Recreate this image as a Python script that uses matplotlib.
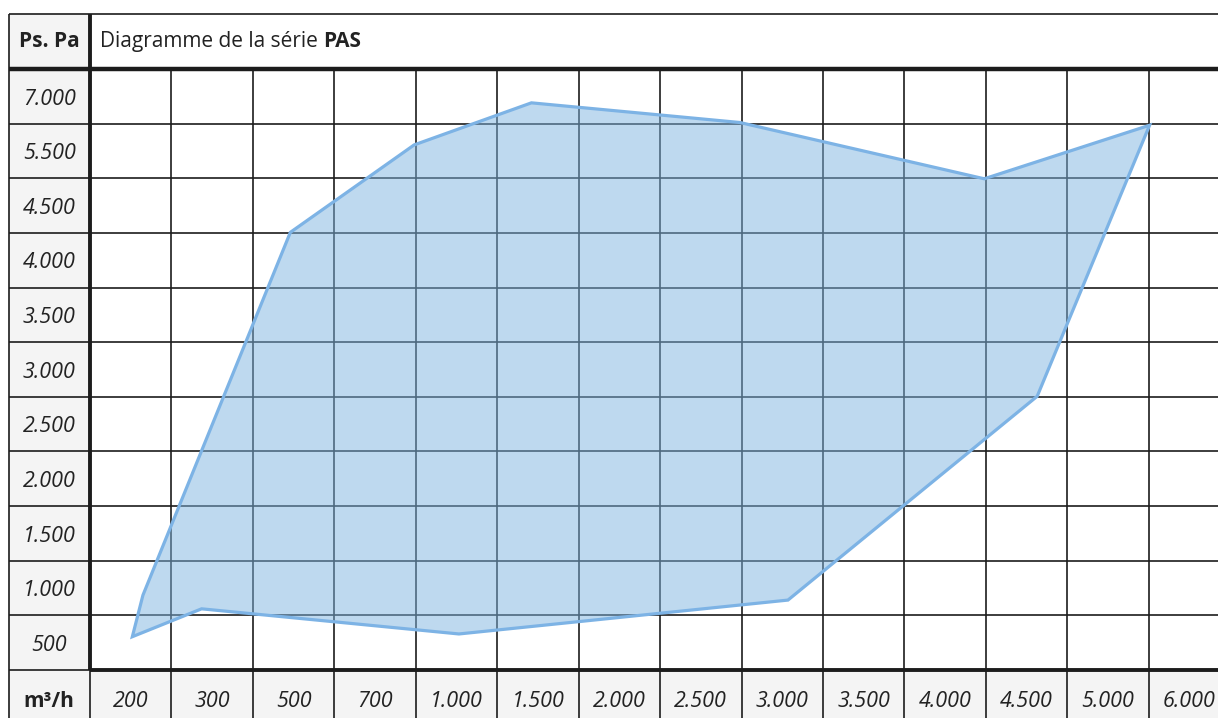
### Library Imports
import matplotlib.pyplot as plt
from matplotlib.patches import Rectangle, Polygon

### Data
x_labels = ['200', '300', '500', '700', '1.000', '1.500', '2.000', '2.500',
            '3.000', '3.500', '4.000', '4.500', '5.000', '6.000']
y_labels = ['500', '1.000', '1.500', '2.000', '2.500', '3.000', '3.500',
            '4.000', '4.500', '5.500', '7.000']

# Operating area outline, in category positions (0 = first label)
outline_x = [0.02, 0.15, 1.96, 3.48, 4.92, 7.48, 10.48, 12.51, 11.13, 8.07, 4.03, 0.87]
outline_y = [0.11, 0.87, 7.51, 9.11, 9.88, 9.52, 8.49, 9.47, 4.51, 0.78, 0.16, 0.62]

title_txt = 'Diagramme de la série '
title_bold = 'PAS'
y_head = 'Ps. Pa'
x_head = 'm³/h'

### Plot
plt.rcParams['font.family'] = ['Open Sans', 'DejaVu Sans']
fig = plt.figure(figsize=(12.18, 7.18), dpi=100)
ax = fig.add_axes([0, 0, 1, 1])
ax.set_xlim(-1.605, 13.35)
ax.set_ylim(-1.378, 11.762)
ax.axis('off')

nx = len(x_labels)
ny = len(y_labels)
right = 13.35
dark = '#1c1c1c'
gray = '#f4f4f4'
txt = '#222222'

# Header column and bottom row backgrounds
ax.add_patch(Rectangle((-1.5, -1.5), 1, ny + 2, color=gray, zorder=0))
ax.add_patch(Rectangle((-1.5, -1.5), nx + 2, 1, color=gray, zorder=0))

# Grid lines
for i in range(nx - 1):
    ax.vlines(i + 0.5, -1.5, ny - 0.5, color=dark, lw=1.2, zorder=1)
ax.vlines(-1.5, -1.5, ny + 0.5, color=dark, lw=1.2, zorder=1)
ax.vlines(-0.5, -0.5, ny + 0.5, color=dark, lw=2.8, zorder=3)
ax.vlines(-0.5, -1.5, -0.5, color=dark, lw=1.2, zorder=1)
for j in range(ny - 1):
    ax.hlines(j + 0.5, -1.5, right, color=dark, lw=1.2, zorder=1)
ax.hlines(ny + 0.5, -1.5, right, color=dark, lw=1.2, zorder=1)
ax.hlines(ny - 0.5, -1.5, right, color=dark, lw=3.2, zorder=3)
ax.hlines(-0.5, -0.5, right, color=dark, lw=2.8, zorder=3)
ax.hlines(-0.5, -1.5, -0.5, color=dark, lw=1.2, zorder=1)

# Operating area
pts = list(zip(outline_x, outline_y))
ax.add_patch(Polygon(pts, closed=True, facecolor='#7eb4e0', alpha=0.5,
                     edgecolor='none', zorder=2))
ax.add_patch(Polygon(pts, closed=True, fill=False, edgecolor='#7db3e5',
                     lw=2.3, joinstyle='miter', zorder=2.5))

# Labels
fs = 15.5
for i, lab in enumerate(x_labels):
    ax.text(i, -1.07, lab, ha='center', va='center', fontsize=fs,
            style='italic', color=txt)
for j, lab in enumerate(y_labels):
    ax.text(-1.0, j - 0.05, lab, ha='center', va='center', fontsize=fs,
            style='italic', color=txt)
ax.text(-1.0, ny, y_head, ha='center', va='center', fontsize=15,
        fontweight='bold', color=txt)
ax.text(-1.0, -1.07, x_head, ha='center', va='center', fontsize=15,
        fontweight='bold', color=txt)
t = ax.text(-0.38, ny, title_txt, ha='left', va='center', fontsize=15,
            color=txt)
fig.canvas.draw()
ax.annotate(title_bold, xycoords=t, xy=(1, 0), va='bottom', fontsize=15,
            fontweight='bold', color=txt)

fig.savefig('out.png', dpi=100)
